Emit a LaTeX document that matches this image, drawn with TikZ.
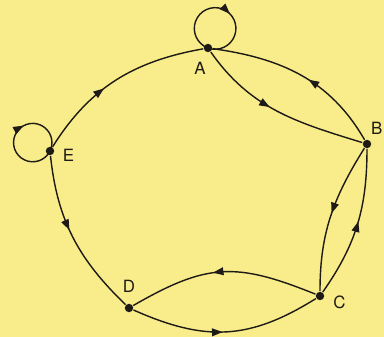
\documentclass[tikz,border=0pt]{standalone}
\usepackage{fontspec}
\setsansfont{TeX Gyre Heros}
\usetikzlibrary{arrows.meta, positioning, decorations.markings}
\definecolor{cpaper}{HTML}{F9EC8A}
\definecolor{cink}{HTML}{1E1A16}
\tikzset{
  every picture/.style={font=\sffamily, line width=1pt},
  vertex/.style={circle, fill=cink, inner sep=0pt, minimum size=6pt},
  lab/.style={font=\fontsize{12}{14}\selectfont\sffamily, text=cink, inner sep=0pt},
  edge/.style={draw=cink},
  midarrow/.style={postaction={decorate}, decoration={markings,
      mark=at position #1 with {\arrow{Triangle[length=7.5pt, width=5.5pt]}}}},
  midarrow/.default=0.5,
}

\begin{document}
\begin{tikzpicture}
  \useasboundingbox (0,0) rectangle (9.6,8.425);
  \fill[cpaper] (0,0) rectangle (9.6,8.425);
  \node[vertex] (A) at (5.2,7.225) {};
  \node[vertex] (B) at (9.175,4.825) {};
  \node[vertex] (C) at (8.0,1.025) {};
  \node[vertex] (D) at (3.225,0.725) {};
  \node[vertex] (E) at (1.25,4.65) {};
  \node[lab, below=6.3pt of A, xshift=-5.7pt] {A};
  \node[lab, above right=3.6pt and 0pt of B] {B};
  \node[lab, right=5.6pt of C, yshift=-4.2pt] {C};
  \node[lab, above=7pt of D] {D};
  \node[lab, right=5.2pt of E, yshift=-2.8pt] {E};
  % outer ring
  \draw[edge, midarrow=0.42] (E) to[out=58, in=190] (A);
  \draw[edge, midarrow=0.45] (B) to[out=120, in=-8] (A);
  \draw[edge, midarrow=0.52] (C) to[out=55, in=-90] (B);
  \draw[edge, midarrow=0.48] (D) to[out=-24, in=-148, looseness=1.1] (C);
  \draw[edge, midarrow=0.45] (E) to[out=-84, in=136] (D);
  % inner arcs
  \draw[edge, midarrow=0.45] (A) to[out=-55, in=163] (B);
  \draw[edge, midarrow=0.48] (B) to[out=-122, in=90] (C);
  \draw[edge, midarrow=0.55] (C) to[out=158, in=30, looseness=1.2] (D);
  % loops
  \draw[edge, midarrow=0.57] (A.center) arc[start angle=250, end angle=-110, radius=0.52cm];
  \draw[edge, midarrow=0.6] (E.center) arc[start angle=-26, end angle=-386, radius=0.48cm];
\end{tikzpicture}
\end{document}
